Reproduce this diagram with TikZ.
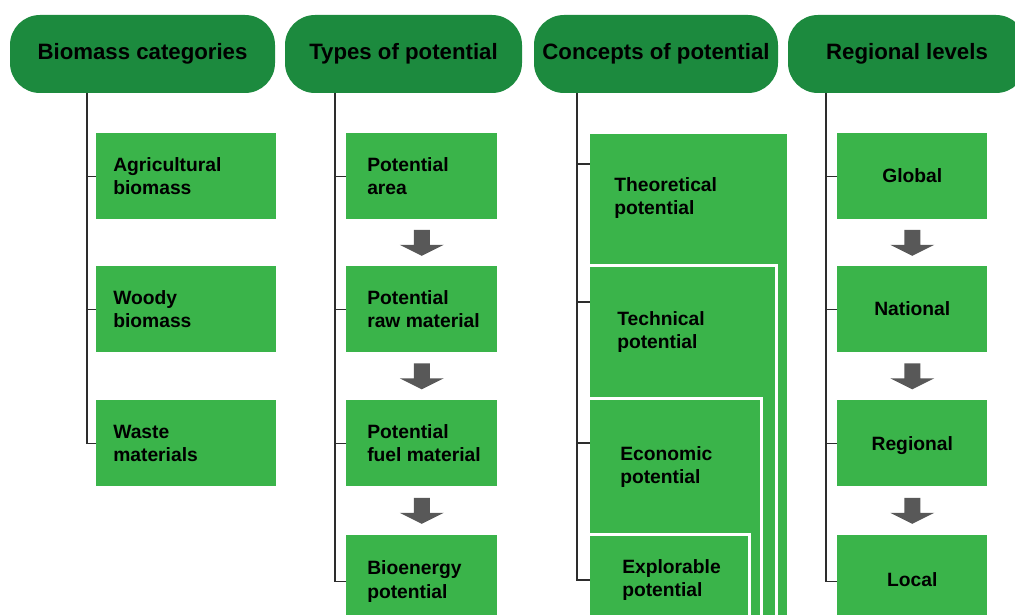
\documentclass[tikz,border=0pt]{standalone}
\usepackage{fontspec}
\setmainfont{Liberation Sans}
\usetikzlibrary{calc}
\definecolor{headgreen}{RGB}{28,138,62}
\definecolor{boxgreen}{RGB}{58,180,74}
\definecolor{arrgray}{RGB}{88,88,88}
\definecolor{linegray}{RGB}{45,45,45}
\newdimen\unitpx
\unitpx=0.025cm
\tikzset{downarr/.pic={\fill[arrgray] (-8,-13) -- (8,-13) -- (8,2) -- (22,2) -- (0,13) -- (-22,2) -- (-8,2) -- cycle;}}

\begin{document}
\begin{tikzpicture}[x=0.025cm,y=-0.025cm,
  head/.style={fill=headgreen,rounded corners=30\unitpx,minimum height=78\unitpx,inner sep=0pt,
    font=\bfseries\fontsize{15.8}{18}\selectfont},
  item/.style={fill=boxgreen,anchor=north west,minimum height=86\unitpx,inner sep=0pt},
  itemtext/.style={anchor=west,align=left,inner sep=0pt,font=\bfseries\fontsize{13.7}{16.7}\selectfont},
  nest/.style={fill=boxgreen,draw=white,line width=3\unitpx,outer sep=0pt,anchor=north west,inner sep=0pt},
  trunk/.style={draw=linegray,line width=1.5\unitpx}]
  \useasboundingbox (0,0) rectangle (1015,615);
  \clip (0,0) rectangle (1015,615);

  \node[head,minimum width=265\unitpx] (hcat) at (142.5,54) {Biomass categories};
  \node[head,minimum width=237\unitpx] (htyp) at (403.5,54) {Types of potential};
  \node[head,minimum width=244\unitpx] (hcon) at (656,54) {Concepts of potential};
  \node[head,minimum width=238\unitpx] (hreg) at (907,54) {Regional levels};

  \node[item,minimum width=180\unitpx] (agr) at (96,133) {};
  \node[item,minimum width=180\unitpx] (woody) at (96,266) {};
  \node[item,minimum width=180\unitpx] (waste) at (96,400) {};
  \node[itemtext] at ([xshift=17\unitpx]agr.west) {Agricultural\\biomass};
  \node[itemtext] at ([xshift=17\unitpx]woody.west) {Woody\\biomass};
  \node[itemtext] at ([xshift=17\unitpx]waste.west) {Waste\\materials};

  \node[item,minimum width=151\unitpx] (parea) at (346,133) {};
  \node[item,minimum width=151\unitpx] (praw) at (346,266) {};
  \node[item,minimum width=151\unitpx] (pfuel) at (346,400) {};
  \node[item,minimum width=151\unitpx,minimum height=92\unitpx] (pbio) at (346,535) {};
  \node[itemtext] at ([xshift=21\unitpx]parea.west) {Potential\\area};
  \node[itemtext] at ([xshift=21\unitpx]praw.west) {Potential\\raw material};
  \node[itemtext] at ([xshift=21\unitpx]pfuel.west) {Potential\\fuel material};
  \node[itemtext] at ([xshift=21\unitpx]pbio.west) {Bioenergy\\potential};

  \node[nest,minimum width=197\unitpx,minimum height=491\unitpx,draw=none] (theo) at (590,134) {};
  \node[nest,minimum width=187.5\unitpx,minimum height=359\unitpx] (tech) at (588.5,266) {};
  \node[nest,minimum width=172.5\unitpx,minimum height=226\unitpx] (econ) at (588.5,399) {};
  \node[nest,minimum width=160.5\unitpx,minimum height=90\unitpx] (expl) at (588.5,535) {};
  \node[itemtext] at (614,198) {Theoretical\\potential};
  \node[itemtext] at (617,332) {Technical\\potential};
  \node[itemtext] at (620,467) {Economic\\potential};
  \node[itemtext] at (622,580) {Explorable\\potential};

  \node[item,minimum width=150\unitpx] (glob) at (837,133) {};
  \node[item,minimum width=150\unitpx] (nat) at (837,266) {};
  \node[item,minimum width=150\unitpx] (regi) at (837,400) {};
  \node[item,minimum width=150\unitpx,minimum height=92\unitpx] (loc) at (837,535) {};
  \node[itemtext,anchor=center] at ([yshift=1\unitpx]glob.center) {Global};
  \node[itemtext,anchor=center] at ([yshift=1\unitpx]nat.center) {National};
  \node[itemtext,anchor=center] at ([yshift=-2\unitpx]regi.center) {Regional};
  \node[itemtext,anchor=center] at ([yshift=2\unitpx]loc.center) {Local};

  \coordinate (t1) at (87,93);
  \coordinate (t2) at (335,93);
  \coordinate (t3) at (577,93);
  \coordinate (t4) at (826,93);
  \draw[trunk] (t1) |- (waste.west);
  \foreach \b in {agr,woody} \draw[trunk] (t1 |- \b.west) -- (\b.west);
  \draw[trunk] (t2) |- (pbio.west);
  \foreach \b in {parea,praw,pfuel} \draw[trunk] (t2 |- \b.west) -- (\b.west);
  \draw[trunk] (t3) |- (theo.west |- expl.west);
  \foreach \y in {164,302,443} \draw[trunk] (t3 |- 0,\y) -- (theo.west |- 0,\y);
  \draw[trunk] (t4) |- (loc.west);
  \foreach \b in {glob,nat,regi} \draw[trunk] (t4 |- \b.west) -- (\b.west);

  \pic at ($(parea.south)!.5!(praw.north)$) {downarr};
  \pic at ($(praw.south)!.5!(pfuel.north)$) {downarr};
  \pic at ($(pfuel.south)!.5!(pbio.north)$) {downarr};
  \pic at ($(glob.south)!.5!(nat.north)$) {downarr};
  \pic at ($(nat.south)!.5!(regi.north)$) {downarr};
  \pic at ($(regi.south)!.5!(loc.north)$) {downarr};
\end{tikzpicture}
\end{document}
